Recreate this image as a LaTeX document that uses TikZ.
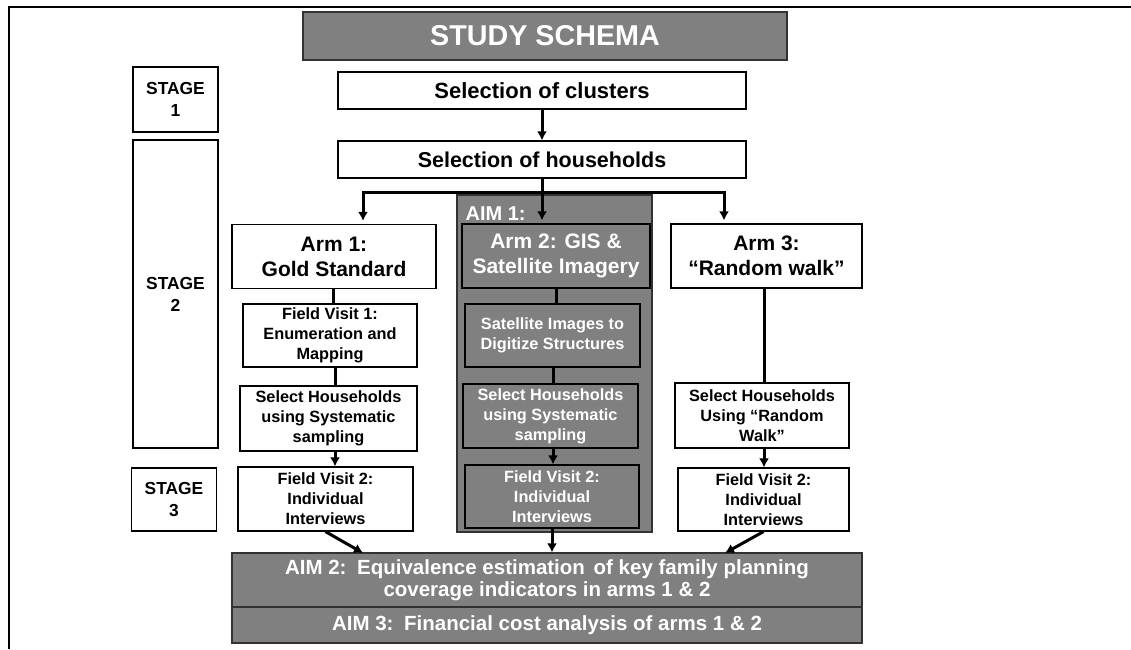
\documentclass[tikz,border=0pt]{standalone}
\usepackage{fontspec}
\setmainfont{Liberation Sans}
\usetikzlibrary{calc,
arrows.meta}
\definecolor{boxgray}{RGB}{128,128,128}
\definecolor{edgegray}{RGB}{50,50,50}
\newcommand*{\fs}[2]{\fontsize{#1}{#2}\selectfont\bfseries}

\begin{document}
\begin{tikzpicture} [x=1pt, y=-1pt,
    -{Latex[length=9pt, width=10pt]},
    >={Latex[length=9pt, width=10pt]},
    line width=3pt,
    every node/.style={line width=1.2pt, inner sep=2pt},
    main node/.style={rectangle, fill=white, draw, align=center, font=\fs{16.3}{20}},
    gray node/.style={main node, fill=boxgray, text=white},
    stage node/.style={main node, minimum width=85pt, font=\fs{17.4}{22}},
    arm node/.style={minimum height=64pt, font=\fs{21}{25}},
    aim node/.style={gray node, draw=edgegray, minimum width=630pt, font=\fs{20.5}{22}}]

  \useasboundingbox (0,0) rectangle (1131,649);
  \draw [-, line width=2pt] (9,649) -- (9,7) -- (1131,7);

  \node [gray node, draw=edgegray, minimum width=484pt, minimum height=48pt,
    font=\fs{28.7}{34}
  ] (title) at (545,36) {STUDY SCHEMA};

  % stages
  \node [stage node, minimum height=65pt] (st1) at (175.5,99.5) {STAGE\\1};
  \node [stage node, minimum height=308pt] (st2) at (175.5,294) {STAGE\\2};
  \node [stage node, minimum height=63pt] (st3) at (174,499.5) {STAGE\\3};

  \node [main node, minimum width=408pt, minimum height=37pt, font=\fs{22}{26}
  ] (clus) at (542,90.5) {Selection of clusters};
  \node [main node, minimum width=408pt, minimum height=37pt, font=\fs{21.5}{26}
  ] (hh) at (542,159.5) {Selection of households};

  \draw [->] (clus.south) -- (hh.north);

  % aim 1 frame
  \node [gray node, draw=edgegray, line width=2pt,
    minimum width=195pt,
    minimum height=337pt
  ] (aim1) at (554.5,363.5) {};
  \node [text=white, font=\fs{20}{24}, anchor=base west, inner sep=0pt
  ] (aim1lbl) at (465,220) {AIM 1:};

  % arms
  \node [main node, arm node, minimum width=204pt] (arm1) at (334,256.5) {Arm 1:\\Gold Standard};
  \node [gray node, arm node, draw=black, minimum width=188pt] (arm2) at (556,256) {Arm 2: GIS \&\\Satellite Imagery};
  \node [main node, arm node, minimum width=191pt] (arm3) at (766.5,256) {Arm 3:\\“Random walk”};

  \coordinate (sp1) at (363,192);
  \coordinate (sp3) at (724,192);

  \draw [-, line cap=rect] (sp1) -- (sp3);
  \draw [->, shorten >=3pt] (hh.south) -- (hh.south |- arm2.north);
  \draw [->, shorten >=3pt] (sp1) -- (sp1 |- arm1.north);
  \draw [->, shorten >=3pt] (sp3) -- (sp3 |- arm3.north);

  % arm 1 column
  \node [main node, minimum width=174pt, minimum height=63pt] (fv1) at (330,335.5) {Field Visit 1:\\Enumeration and\\Mapping};
  \node [main node, minimum width=177pt, minimum height=65pt] (sel1) at (328.5,418.5) {Select Households\\using Systematic\\sampling};
  \node [main node, minimum width=175pt, minimum height=64pt] (fvb1) at (325.5,499) {Field Visit 2:\\Individual\\Interviews};

  % arm 2 column
  \node [gray node, minimum width=175pt, minimum height=63pt] (sat) at (552.5,335.5) {Satellite Images to\\Digitize Structures};
  \node [gray node, minimum width=175pt, minimum height=64pt] (sel2) at (550.5,416) {Select Households\\using Systematic\\sampling};
  \node [gray node, minimum width=174pt, minimum height=63pt] (fvb2) at (552,496.5) {Field Visit 2:\\Individual\\Interviews};

  % arm 3 column
  \node [main node, minimum width=174pt, minimum height=65pt] (sel3) at (762,415.5) {Select Households\\Using “Random\\Walk”};
  \node [main node, minimum width=171pt, minimum height=63pt] (fvb3) at (763.5,499.5) {Field Visit 2:\\Individual\\Interviews};

  \draw [-] (fv1.north -| 333,0) -- (arm1.south -| 333,0);
  \draw [-] (sel1.north -| 335,0) -- (fv1.south -| 335,0);
  \draw [->] (sel1.south -| 335,0) -- (fvb1.north -| 335,0);

  \draw [-] (arm2.south -| 556,0) -- (sat.north -| 556,0);
  \draw [-] (sat.south -| 553,0) -- (sel2.north -| 553,0);
  \draw [->] (sel2.south -| 553,0) -- (fvb2.north -| 553,0);

  \draw [-] (arm3.south -| 764,0) -- (sel3.north -| 764,0);
  \draw [->] (sel3.south -| 764,0) -- (fvb3.north -| 764,0);

  % aims 2 and 3
  \node [aim node, minimum height=54pt] (aim2) at (547,580) {AIM 2:\hspace{3pt} Equivalence estimation\hspace{3pt} of key family planning\\coverage indicators in arms 1 \& 2};
  \node [aim node, minimum height=36pt] (aim3) at (547,625) {AIM 3:\hspace{3pt} Financial cost analysis of arms 1 \& 2};

  \coordinate (inl) at (363,553);
  \coordinate (inr) at (725,553);

  \draw [->] (fvb1.south) -- (inl);
  \draw [->] (fvb2.south) -- (fvb2.south |- aim2.north);
  \draw [->] (fvb3.south) -- (inr);

\end{tikzpicture}
\end{document}
